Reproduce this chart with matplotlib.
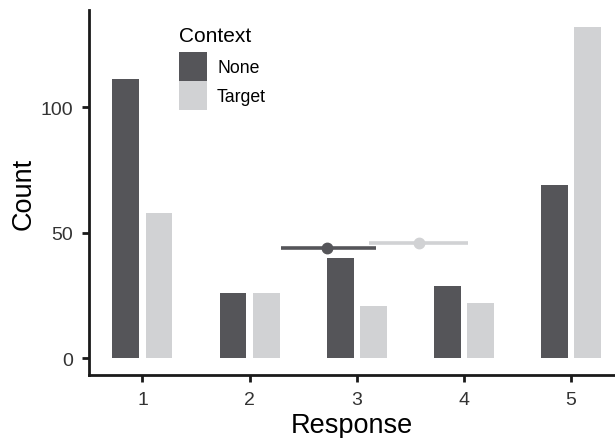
import matplotlib
matplotlib.use("Agg")
import matplotlib.pyplot as plt
from matplotlib.patches import Patch
import numpy as np

plt.rcParams['font.family'] = ['Liberation Sans', 'DejaVu Sans']

responses = [1, 2, 3, 4, 5]
none_counts = [111, 26, 40, 29, 69]
target_counts = [58, 26, 21, 22, 132]
contexts = ["None", "Target"]
colors = {"None": "#555559", "Target": "#d1d2d4"}

# mean response and interval per context (horizontal error bars)
summary_y = {"None": 44, "Target": 46}
summary_mean = {"None": 2.72, "Target": 3.58}
summary_lo = {"None": 2.29, "Target": 3.11}
summary_hi = {"None": 3.18, "Target": 4.04}

fig = plt.figure(figsize=(6.15, 4.39), dpi=100)
ax = fig.add_axes([89.4 / 615, 1 - 376 / 439, 1 - 89.4 / 615, (376 - 11) / 439])

x = np.array(responses, dtype=float)
w = 0.25
off = 0.155
ax.bar(x - off, none_counts, width=w, color=colors["None"], label="None")
ax.bar(x + off, target_counts, width=w, color=colors["Target"], label="Target")

for c in contexts:
    ax.plot([summary_lo[c], summary_hi[c]], [summary_y[c], summary_y[c]],
            color=colors[c], lw=2.6, solid_capstyle='butt', zorder=3)
    ax.plot([summary_mean[c]], [summary_y[c]], 'o', color=colors[c],
            markersize=7.5, zorder=4)

ax.set_xlim(0.505, 5.41)
ax.set_ylim(-6.6, 138.6)
ax.set_xticks(responses)
ax.set_xticklabels([str(r) for r in responses])
ax.set_yticks([0, 50, 100])

for s in ['top', 'right']:
    ax.spines[s].set_visible(False)
for s in ['left', 'bottom']:
    ax.spines[s].set_linewidth(2.0)
    ax.spines[s].set_color('#1a1a1a')
ax.tick_params(axis='both', length=5, width=2.0, color='#1a1a1a',
               labelsize=14, labelcolor='#333333', pad=6.5)

ax.set_xlabel("Response", fontsize=19.5, color='black', labelpad=3)
ax.set_ylabel("Count", fontsize=19.5, color='black', labelpad=3)

handles = [Patch(facecolor=colors[c], edgecolor='none') for c in contexts]
leg = ax.legend(handles, contexts, title="Context", loc='upper left',
                bbox_to_anchor=(179 / 615, 1 - 27 / 439), bbox_transform=fig.transFigure,
                frameon=False, fontsize=12.7, title_fontsize=15,
                handlelength=1.59, handleheight=2.16, labelspacing=0.0,
                handletextpad=0.57, borderpad=0.0, borderaxespad=0)
leg._legend_box.align = "left"
leg._legend_box.sep = 5

fig.savefig("out.png", dpi=100)
